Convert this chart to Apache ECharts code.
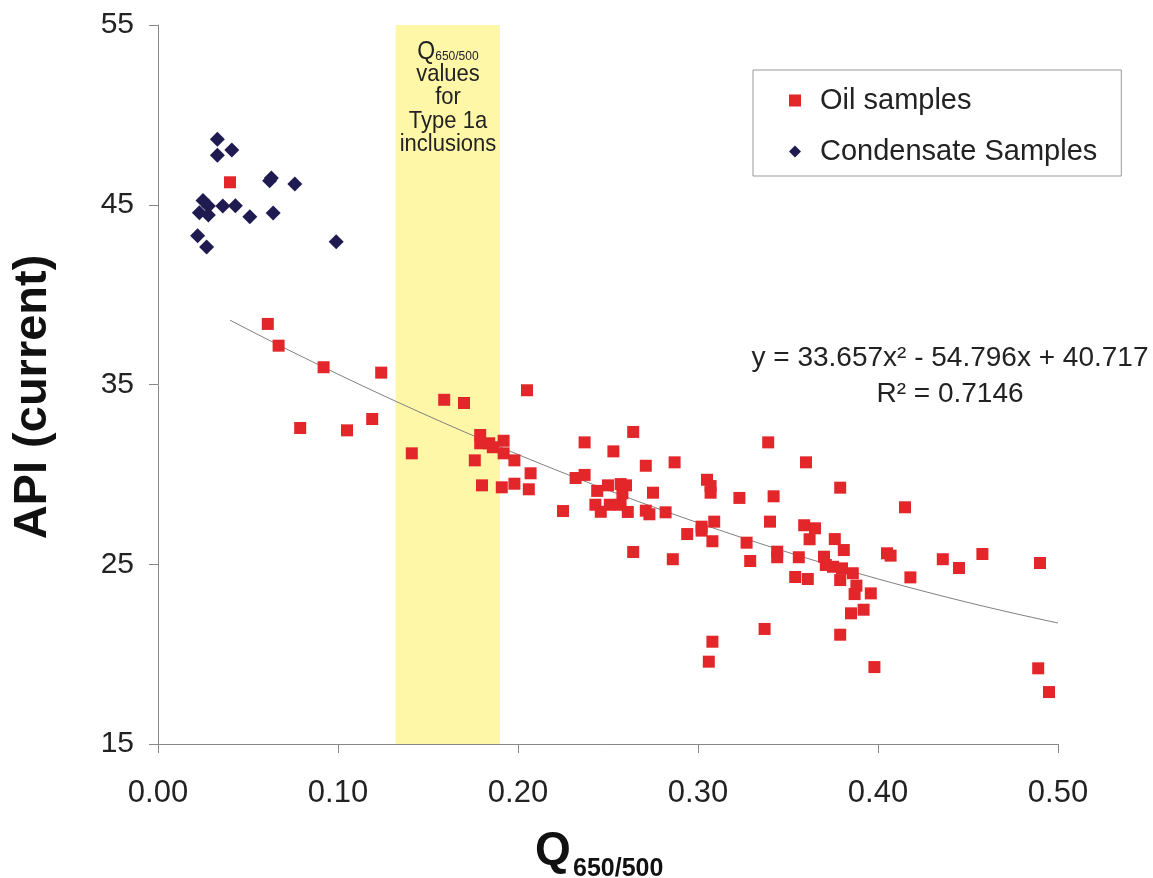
<!DOCTYPE html>
<html>
<head>
    <meta charset="utf-8">
    <title>API vs Q650/500</title>
    <script src="https://cdn.jsdelivr.net/npm/echarts@6/dist/echarts.min.js"></script>
    <style>
        body { margin: 0; background: #fff; }
    </style>
</head>
<body>
    <div id="chart" style="width: 1153px;height:878px;"></div>
    <script type="text/javascript">
    // oil samples [Q650/500, API]
    var oilSamples = [
        [0.040, 46.25], [0.061, 38.37], [0.067, 37.16], [0.092, 35.96], [0.124, 35.66],
        [0.079, 32.58], [0.105, 32.45], [0.119, 33.08], [0.141, 31.17], [0.159, 34.15],
        [0.170, 33.97], [0.205, 34.68], [0.179, 32.19], [0.179, 31.73], [0.184, 31.73],
        [0.186, 31.51], [0.192, 31.87], [0.192, 31.17], [0.176, 30.78], [0.198, 30.78],
        [0.207, 30.06], [0.180, 29.39], [0.191, 29.28], [0.198, 29.48], [0.206, 29.17],
        [0.225, 27.96], [0.232, 29.80], [0.237, 29.97], [0.237, 31.78], [0.253, 31.28],
        [0.264, 32.36], [0.244, 29.08], [0.250, 29.39], [0.257, 29.46], [0.260, 29.39],
        [0.258, 28.95], [0.243, 28.31], [0.246, 27.92], [0.251, 28.31], [0.257, 28.31],
        [0.261, 27.91], [0.264, 25.68], [0.339, 31.78], [0.360, 30.67], [0.271, 30.48],
        [0.287, 30.67], [0.275, 28.98], [0.305, 29.70], [0.307, 29.35], [0.307, 28.98],
        [0.323, 28.69], [0.342, 28.78], [0.271, 27.98], [0.273, 27.78], [0.282, 27.89],
        [0.302, 27.09], [0.302, 26.87], [0.309, 27.37], [0.294, 26.68], [0.308, 26.28],
        [0.340, 27.37], [0.359, 27.17], [0.365, 27.00], [0.362, 26.39], [0.327, 26.20],
        [0.329, 25.18], [0.344, 25.70], [0.344, 25.39], [0.356, 25.39], [0.286, 25.28],
        [0.354, 24.29], [0.361, 24.18], [0.337, 21.40], [0.308, 20.69], [0.306, 19.58],
        [0.379, 29.26], [0.415, 28.17], [0.376, 26.40], [0.381, 25.79], [0.370, 25.42],
        [0.371, 24.96], [0.375, 24.86], [0.380, 24.77], [0.386, 24.50], [0.379, 24.12],
        [0.405, 25.61], [0.407, 25.48], [0.436, 25.28], [0.445, 24.79], [0.458, 25.57],
        [0.490, 25.07], [0.418, 24.27], [0.388, 23.81], [0.387, 23.34], [0.396, 23.38],
        [0.385, 22.27], [0.392, 22.47], [0.379, 21.08], [0.398, 19.28], [0.489, 19.21],
        [0.495, 17.89]
    ];

    // condensate samples [Q650/500, API]
    var condensateSamples = [
        [0.033, 48.64], [0.041, 48.05], [0.033, 47.75], [0.063, 46.49], [0.062, 46.34],
        [0.076, 46.15], [0.025, 45.23], [0.028, 44.93], [0.023, 44.56], [0.028, 44.43],
        [0.036, 44.93], [0.043, 44.95], [0.051, 44.33], [0.064, 44.54], [0.022, 43.28],
        [0.027, 42.65], [0.099, 42.94]
    ];

    // polynomial trendline y = a x^2 + b x + c, as printed on the chart
    var trendCoef = [33.657, -54.796, 40.717];
    var trendRange = [0.04, 0.50];
    var typeBand = [0.132, 0.19];   // Q650/500 range for Type 1a inclusions

    var xTicks = ['0.00', '0.10', '0.20', '0.30', '0.40', '0.50'];
    var yTicks = [15, 25, 35, 45, 55];

    var trendLine = [];
    for (var i = 0; i <= 92; i++) {
        var x = trendRange[0] + (trendRange[1] - trendRange[0]) * i / 92;
        trendLine.push([x, trendCoef[0] * x * x + trendCoef[1] * x + trendCoef[2]]);
    }

    var font = 'Liberation Sans, Arial, sans-serif';
    var chart = echarts.init(document.getElementById('chart'));
    chart.setOption({
        animation: false,
        textStyle: { fontFamily: font },
        grid: { left: 158, right: 95, top: 25, bottom: 134 },
        legend: {
            orient: 'vertical',
            left: 753, top: 70,
            padding: [16, 24, 10, 36],
            itemGap: 22,
            itemWidth: 12, itemHeight: 12,
            borderColor: '#999', borderWidth: 1,
            backgroundColor: '#fff',
            textStyle: { fontSize: 29, color: '#222', padding: [0, 0, 0, 14], fontFamily: font },
            data: [
                { name: 'Oil samples', icon: 'rect' },
                { name: 'Condensate Samples', icon: 'diamond' }
            ]
        },
        xAxis: {
            type: 'value',
            min: 0, max: 0.5, interval: 0.1,
            axisLine: { lineStyle: { color: '#888', width: 1 } },
            axisTick: { length: 9, lineStyle: { color: '#888' } },
            splitLine: { show: false },
            axisLabel: {
                margin: 34, fontSize: 31, color: '#222',
                formatter: function (v) { return xTicks[Math.round(v * 10)]; }
            }
        },
        yAxis: {
            type: 'value',
            min: yTicks[0], max: yTicks[yTicks.length - 1], interval: 10,
            axisLine: { show: true, lineStyle: { color: '#888', width: 1 } },
            axisTick: { show: true, length: 9, lineStyle: { color: '#888' } },
            splitLine: { show: false },
            axisLabel: { margin: 24, fontSize: 30, color: '#222' }
        },
        series: [{
            name: 'Oil samples',
            type: 'scatter',
            symbol: 'rect',
            symbolSize: 12,
            itemStyle: { color: '#e3262a', opacity: 1 },
            data: oilSamples,
            z: 3,
            markArea: {
                silent: true,
                itemStyle: { color: '#fff7a8' },
                data: [[{ xAxis: typeBand[0] }, { xAxis: typeBand[1] }]]
            }
        }, {
            name: 'Condensate Samples',
            type: 'scatter',
            symbol: 'diamond',
            symbolSize: 15,
            itemStyle: { color: '#1f1b50', opacity: 1 },
            data: condensateSamples,
            z: 3
        }, {
            name: 'trend',
            type: 'line',
            showSymbol: false,
            smooth: false,
            lineStyle: { color: '#808080', width: 1 },
            data: trendLine,
            z: 2
        }],
        graphic: [{
            // y axis title
            type: 'text',
            z: 100,
            x: 33, y: 397,
            rotation: Math.PI / 2,
            style: {
                text: 'API (current)',
                font: 'bold 47px ' + font,
                fill: '#111',
                align: 'center', verticalAlign: 'middle'
            }
        }, {
            // x axis title
            type: 'text',
            z: 100,
            x: 535, y: 851,
            style: {
                text: 'Q',
                font: 'bold 46px ' + font,
                fill: '#111',
                align: 'left', verticalAlign: 'middle'
            }
        }, {
            type: 'text',
            z: 100,
            x: 573, y: 869,
            style: {
                text: '650/500',
                font: 'bold 25px ' + font,
                fill: '#111',
                align: 'left', verticalAlign: 'middle'
            }
        }, {
            // band label
            type: 'text',
            z: 100,
            x: 448, y: 40,
            scaleY: 1.1,
            style: {
                text: '{q|Q}{s|650/500}\nvalues\nfor\nType 1a\ninclusions',
                align: 'center',
                verticalAlign: 'top',
                fill: '#222',
                font: '22px ' + font,
                lineHeight: 21,
                rich: {
                    q: { fontSize: 23, lineHeight: 21, fontFamily: font, fill: '#222' },
                    s: { fontSize: 12, lineHeight: 21, fontFamily: font, fill: '#222', verticalAlign: 'bottom', padding: [12, 0, 0, 0] }
                }
            }
        }, {
            // trendline equation
            type: 'text',
            z: 100,
            x: 950, y: 358,
            style: {
                text: 'y = 33.657x² - 54.796x + 40.717',
                font: '28px ' + font,
                fill: '#222',
                align: 'center', verticalAlign: 'middle'
            }
        }, {
            type: 'text',
            z: 100,
            x: 950, y: 394,
            style: {
                text: 'R² = 0.7146',
                font: '28px ' + font,
                fill: '#222',
                align: 'center', verticalAlign: 'middle'
            }
        }]
    });
    </script>
</body>
</html>
